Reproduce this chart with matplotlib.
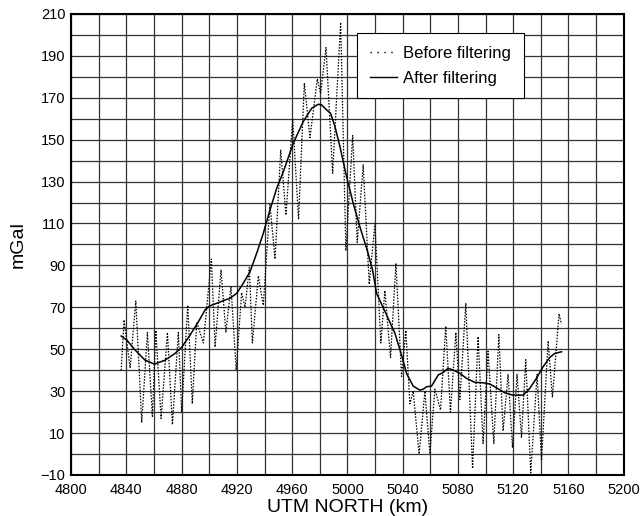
import matplotlib
matplotlib.use("Agg")
import matplotlib.pyplot as plt
from matplotlib.lines import Line2D
from matplotlib.ticker import MultipleLocator

plt.rcParams['font.family'] = ['Liberation Sans', 'DejaVu Sans']

# raw gravity profile (before filtering)
raw_x = [4836.2, 4838.3, 4842.7, 4846.8, 4851.1, 4855.2, 4858.8, 4861.3, 4865.1, 4869.7,
         4873.3, 4877.6, 4880.0, 4884.4, 4887.7, 4890.9, 4895.7, 4901.5, 4904.2, 4908.5,
         4912.0, 4915.7, 4919.5, 4923.4, 4925.9, 4929.0, 4931.2, 4935.5, 4939.1, 4943.9,
         4947.6, 4951.7, 4955.5, 4960.4, 4964.6, 4968.8, 4972.9, 4978.2, 4980.6, 4984.5,
         4989.3, 4995.1, 4998.9, 5003.8, 5007.1, 5011.4, 5015.8, 5019.9, 5024.2, 5027.1,
         5031.2, 5035.1, 5039.2, 5042.3, 5045.2, 5047.6, 5051.9, 5056.1, 5059.7, 5063.3,
         5067.4, 5071.2, 5074.6, 5078.5, 5081.4, 5085.7, 5090.6, 5094.6, 5098.2, 5101.8,
         5106.0, 5109.6, 5112.7, 5116.3, 5119.5, 5122.8, 5126.0, 5129.1, 5132.7, 5137.3,
         5140.5, 5145.3, 5148.4, 5153.2, 5154.9]
raw_y = [40, 64, 41, 73, 15, 58, 18, 59, 17, 58,
         14, 58, 20, 71, 24, 63, 53, 93, 51, 88,
         58, 80, 40, 77, 70, 89, 53, 85, 71, 119,
         93, 145, 114, 160, 112, 177, 151, 179, 172, 194,
         134, 206, 97, 152, 101, 138, 81, 110, 53, 78,
         46, 91, 37, 59, 24, 30, 0, 30, 0, 31,
         21, 61, 20, 58, 26, 72, -7, 56, 5, 49,
         5, 57, 11, 38, 3, 38, 8, 45, -9, 38,
         -3, 54, 27, 67, 62]

# filtered profile
flt_x = [4836.2, 4840.3, 4846.3, 4853.5, 4860.3, 4868.0, 4875.2, 4880.0, 4886.1, 4892.1,
         4896.9, 4900.0, 4906.5, 4911.4, 4915.0, 4919.9, 4924.6, 4929.5, 4934.3, 4939.1,
         4943.9, 4948.8, 4953.6, 4960.8, 4968.0, 4974.1, 4978.9, 4981.3, 4984.9, 4987.8,
         4991.0, 4994.6, 4999.4, 5004.2, 5009.0, 5014.3, 5018.2, 5021.1, 5028.4, 5034.4,
         5039.2, 5042.8, 5047.6, 5052.4, 5054.8, 5057.3, 5060.9, 5065.7, 5069.3, 5072.9,
         5076.5, 5081.4, 5086.2, 5092.2, 5098.2, 5103.1, 5107.9, 5113.9, 5119.9, 5127.2,
         5132.0, 5136.8, 5141.6, 5146.5, 5150.1, 5155.0]
flt_y = [56.3, 54.4, 49.6, 44.8, 42.9, 44.8, 48.0, 50.9, 56.8, 63.1,
         68.7, 70.6, 72.2, 73.5, 74.3, 76.7, 81.5, 87.0, 95.8, 105.3,
         116.4, 126.8, 134.7, 148.3, 158.6, 165.0, 166.9, 166.6, 164.2, 162.6,
         156.2, 146.7, 132.3, 119.6, 108.5, 97.3, 87.8, 76.7, 66.3, 57.6,
         47.2, 38.5, 32.4, 30.5, 30.9, 32.1, 32.4, 37.7, 38.9, 40.9,
         40.1, 38.5, 36.1, 34.2, 34.0, 33.4, 31.6, 29.2, 28.1, 28.1,
         31.3, 36.1, 41.6, 46.1, 48.0, 48.8]

fig = plt.figure(figsize=(6.41, 5.16), dpi=100)
ax = fig.add_axes([0.111, 0.0795, 0.862, 0.8935])

ax.plot(raw_x, raw_y, color='black', lw=0.9, ls=(0, (1.2, 1.2)))
ax.plot(flt_x, flt_y, color='black', lw=1.1)

ax.set_xlim(4800, 5200)
ax.set_ylim(-10, 210)
ax.xaxis.set_major_locator(MultipleLocator(40))
ax.xaxis.set_minor_locator(MultipleLocator(20))
ax.set_yticks(range(-10, 211, 20))
ax.set_yticks(range(0, 211, 10), minor=True)
ax.yaxis.set_major_formatter(plt.FuncFormatter(lambda v, p: f"{v:.0f}".replace('-', '\u2212')))
ax.grid(which='both', color='0.2', lw=0.9)
ax.set_axisbelow(True)
ax.tick_params(which='both', length=0, labelsize=10.5)
ax.tick_params(axis='x', pad=6)
ax.tick_params(axis='y', pad=4)
for s in ax.spines.values():
    s.set_linewidth(1.5)

ax.set_xlabel('UTM NORTH (km)', fontsize=14, labelpad=1)
ax.set_ylabel('mGal', fontsize=14, labelpad=10)

handles = [Line2D([], [], color='black', lw=1.0, ls=(0, (1, 4))),
           Line2D([], [], color='black', lw=1.0)]
leg = ax.legend(handles, ['Before filtering', 'After filtering'],
                loc='upper left', bbox_to_anchor=(0.518, 0.958), fontsize=12,
                fancybox=False, framealpha=1, edgecolor='black', handlelength=1.6,
                handletextpad=0.4, borderpad=0.75, labelspacing=0.6, borderaxespad=0)
leg.get_frame().set_linewidth(0.8)

fig.savefig('out.png', dpi=100)
